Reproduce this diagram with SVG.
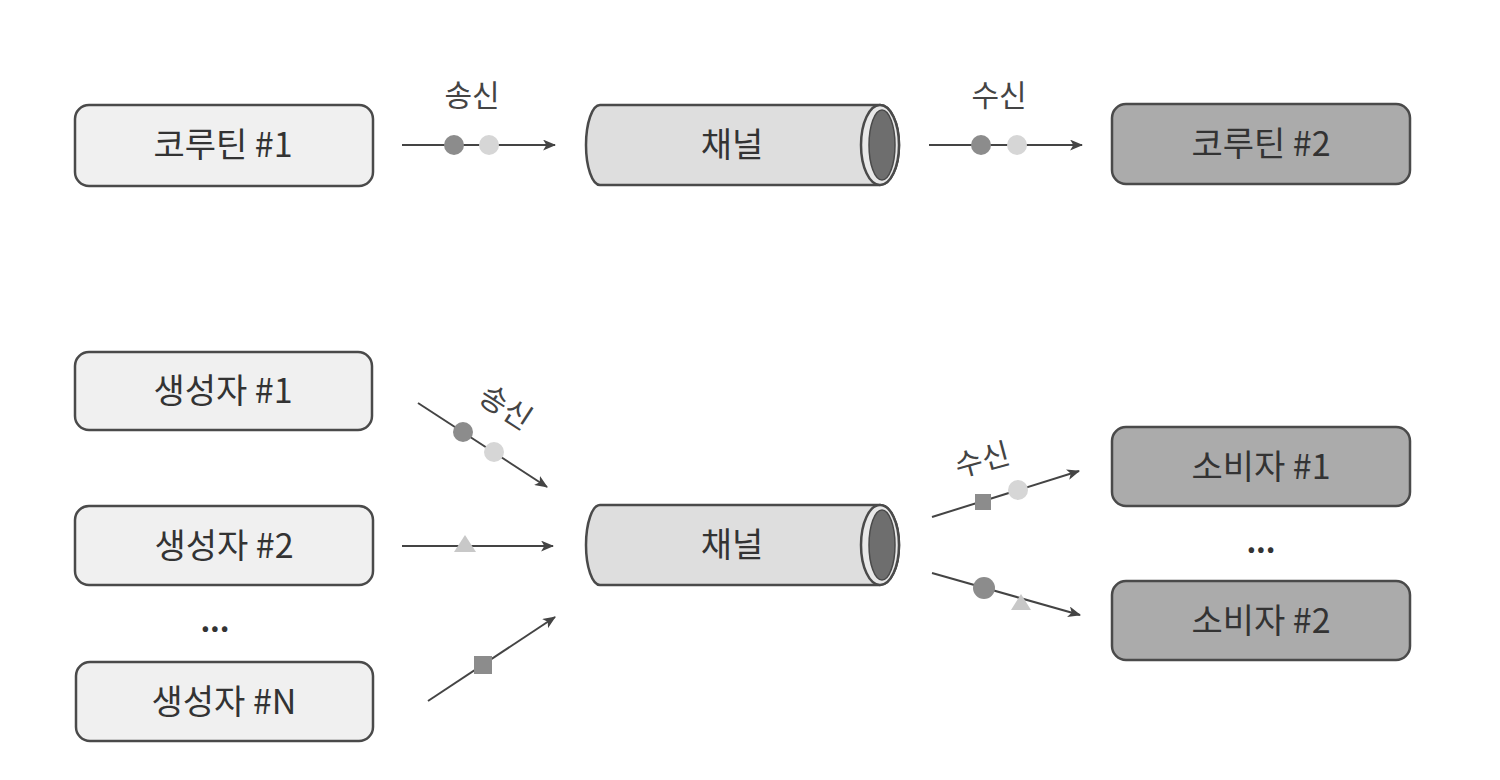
<svg xmlns="http://www.w3.org/2000/svg" width="1500" height="780" viewBox="0 0 1500 780">
<defs>
<style>
.box{stroke:#4a4a4a;stroke-width:2.5}
.light{fill:#f0f0f0}
.dark{fill:#ababab}
.t{font-family:"Noto Sans CJK KR","Noto Sans",sans-serif;font-size:34px;fill:#333;text-anchor:middle}
.dots{font-family:"Noto Sans CJK KR","Noto Sans",sans-serif;font-size:30px;font-weight:bold;fill:#333;text-anchor:middle}
.lbl{font-family:"Noto Sans CJK KR","Noto Sans",sans-serif;font-size:30px;fill:#444;text-anchor:middle}
.ln{stroke:#444;stroke-width:2;fill:none}
.cd{fill:#8c8c8c}
.cl{fill:#d6d6d6}
.pipe{fill:#dedede;stroke:#4a4a4a;stroke-width:2.5}
.hole{fill:#6e6e6e;stroke:#4a4a4a;stroke-width:1.5}
</style>
<marker id="ah" viewBox="0 0 12 10" refX="11" refY="5" markerWidth="13" markerHeight="11" markerUnits="userSpaceOnUse" orient="auto">
<path d="M0,0 L12,5 L0,10 L3,5 Z" fill="#444"/>
</marker>
</defs>
<rect width="1500" height="780" fill="#ffffff"/>

<g id="coroutine1"><rect class="box light" x="75" y="105" width="298" height="81" rx="14"/><text class="t" x="223" y="157">코루틴 #1</text></g>
<g id="channel1">
<path class="pipe" d="M600,105 L880,105 A19,40 0 0 1 880,185 L600,185 A14,40 0 0 1 600,105 Z"/>
<ellipse cx="880" cy="145" rx="19" ry="40" fill="#e8e8e8" stroke="#4a4a4a" stroke-width="2.5"/>
<ellipse class="hole" cx="882" cy="145" rx="13" ry="35"/>
<text class="t" x="732" y="157">채널</text></g>
<g id="coroutine2"><rect class="box dark" x="1112" y="104" width="298" height="80" rx="14"/><text class="t" x="1261" y="156">코루틴 #2</text></g>

<g id="producer1"><rect class="box light" x="75" y="352" width="297" height="78" rx="14"/><text class="t" x="223" y="403">생성자 #1</text></g>
<g id="producer2"><rect class="box light" x="75" y="506" width="298" height="79" rx="14"/><text class="t" x="224" y="558">생성자 #2</text></g>
<text class="dots" x="215" y="632">...</text>
<g id="producerN"><rect class="box light" x="76" y="662" width="297" height="79" rx="14"/><text class="t" x="224" y="714">생성자 #N</text></g>
<g id="channel2">
<path class="pipe" d="M600,505 L880,505 A19,40 0 0 1 880,585 L600,585 A14,40 0 0 1 600,505 Z"/>
<ellipse cx="880" cy="545" rx="19" ry="40" fill="#e8e8e8" stroke="#4a4a4a" stroke-width="2.5"/>
<ellipse class="hole" cx="882" cy="545" rx="13" ry="35"/>
<text class="t" x="732" y="557">채널</text></g>
<g id="consumer1"><rect class="box dark" x="1112" y="427" width="298" height="79" rx="14"/><text class="t" x="1261" y="479">소비자 #1</text></g>
<text class="dots" x="1261" y="553">...</text>
<g id="consumer2"><rect class="box dark" x="1112" y="581" width="298" height="79" rx="14"/><text class="t" x="1261" y="633">소비자 #2</text></g>

<g id="connectors">
<line class="ln" x1="402" y1="145" x2="555" y2="145" marker-end="url(#ah)"/>
<circle class="cd" cx="454" cy="145" r="10"/><circle class="cl" cx="489" cy="145" r="10"/>
<text class="lbl" x="472" y="106">송신</text>
<line class="ln" x1="929" y1="145" x2="1082" y2="145" marker-end="url(#ah)"/>
<circle class="cd" cx="981" cy="145" r="10"/><circle class="cl" cx="1017" cy="145" r="10"/>
<text class="lbl" x="999" y="106">수신</text>

<line class="ln" x1="418" y1="403" x2="547" y2="487" marker-end="url(#ah)"/>
<circle class="cd" cx="463" cy="432" r="10"/><circle class="cl" cx="494" cy="452" r="10"/>
<text class="lbl" transform="translate(500,416) rotate(33)" x="0" y="0">송신</text>
<line class="ln" x1="402" y1="546" x2="553" y2="546" marker-end="url(#ah)"/>
<polygon points="465,535 476,552 454,552" fill="#c8c8c8"/>
<line class="ln" x1="428" y1="701" x2="555" y2="617" marker-end="url(#ah)"/>
<rect x="474" y="656" width="18" height="18" fill="#8c8c8c"/>

<line class="ln" x1="932" y1="517" x2="1079" y2="471" marker-end="url(#ah)"/>
<rect x="975" y="494" width="16" height="16" fill="#8c8c8c"/><circle class="cl" cx="1018" cy="490" r="10"/>
<text class="lbl" transform="translate(985,470) rotate(-15)" x="0" y="0">수신</text>
<line class="ln" x1="932" y1="573" x2="1080" y2="615" marker-end="url(#ah)"/>
<circle class="cd" cx="984" cy="588" r="11"/>
<polygon points="1021,594 1031,610 1011,610" fill="#c8c8c8"/>
</g>
</svg>
